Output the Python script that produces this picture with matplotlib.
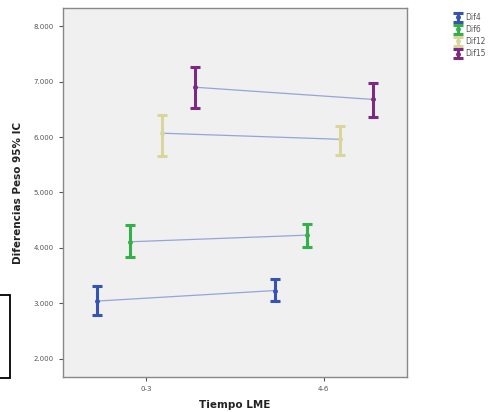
import numpy as np
import matplotlib.pyplot as plt
from matplotlib.patches import Rectangle
from matplotlib.legend_handler import HandlerErrorbar

# datos (medias e IC 95%)
categorias = ['0-3', '4-6']
series = ['Dif4', 'Dif6', 'Dif12', 'Dif15']
colores = ['#3553b0', '#33b04a', '#d9d59c', '#7a2a80']

medias = {
    'Dif4': [3.04, 3.23],
    'Dif6': [4.11, 4.23],
    'Dif12': [6.07, 5.96],
    'Dif15': [6.90, 6.68],
}
ic_inf = {
    'Dif4': [2.78, 3.05],
    'Dif6': [3.83, 4.01],
    'Dif12': [5.65, 5.67],
    'Dif15': [6.53, 6.37],
}
ic_sup = {
    'Dif4': [3.31, 3.43],
    'Dif6': [4.41, 4.44],
    'Dif12': [6.40, 6.20],
    'Dif15': [7.26, 6.97],
}
desplaz = [-0.275, -0.092, 0.092, 0.275]

fig = plt.figure(figsize=(4.98, 4.12), dpi=100)
ax = fig.add_axes([0.1265, 0.085, 0.69, 0.8956])
ax.set_facecolor('#f0f0f0')

x = np.arange(len(categorias))
handles = []
for s, c, d in zip(series, colores, desplaz):
    m = np.array(medias[s])
    lo = m - np.array(ic_inf[s])
    hi = np.array(ic_sup[s]) - m
    xx = x + d
    # linea que une las medias
    ax.plot(xx, m, color='#93a6d6', lw=0.9, zorder=2)
    h = ax.errorbar(xx, m, yerr=[lo, hi], fmt='o', ms=2.5, color=c,
                    ecolor=c, elinewidth=2.2, capsize=3.3, capthick=2.2,
                    zorder=3, label=s)
    handles.append(h)

ax.set_xlim(-0.466, 1.466)
ax.set_ylim(1.67, 8.33)
ax.set_xticks(x)
ax.set_xticklabels(categorias)
yt = np.arange(2, 9)
ax.set_yticks(yt)
ax.set_yticklabels(['%d.000' % v for v in yt])
ax.tick_params(labelsize=5, colors='#555555', length=3)
for sp in ax.spines.values():
    sp.set_color('#888888')
    sp.set_linewidth(1.0)

ax.set_xlabel('Tiempo LME', fontsize=7.5, fontweight='bold', color='#222222', labelpad=6)
ax.set_ylabel('Diferencias Peso 95% IC', fontsize=7.5, fontweight='bold', color='#222222', labelpad=8)

fig.legend(handles=handles, labels=series, loc='upper left',
           bbox_to_anchor=(0.903, 0.985), frameon=False, fontsize=5.5,
           handlelength=0.5, handletextpad=0.6, labelspacing=0.4,
           labelcolor='#555555',
           handler_map={type(handles[0]): HandlerErrorbar(yerr_size=0.55)})

# recuadro negro de la captura
fig.patches.append(Rectangle((-0.01, 0.083), 0.03, 0.202, transform=fig.transFigure,
                             fill=False, edgecolor='black', lw=1.3))

fig.savefig('out.png', dpi=100)
